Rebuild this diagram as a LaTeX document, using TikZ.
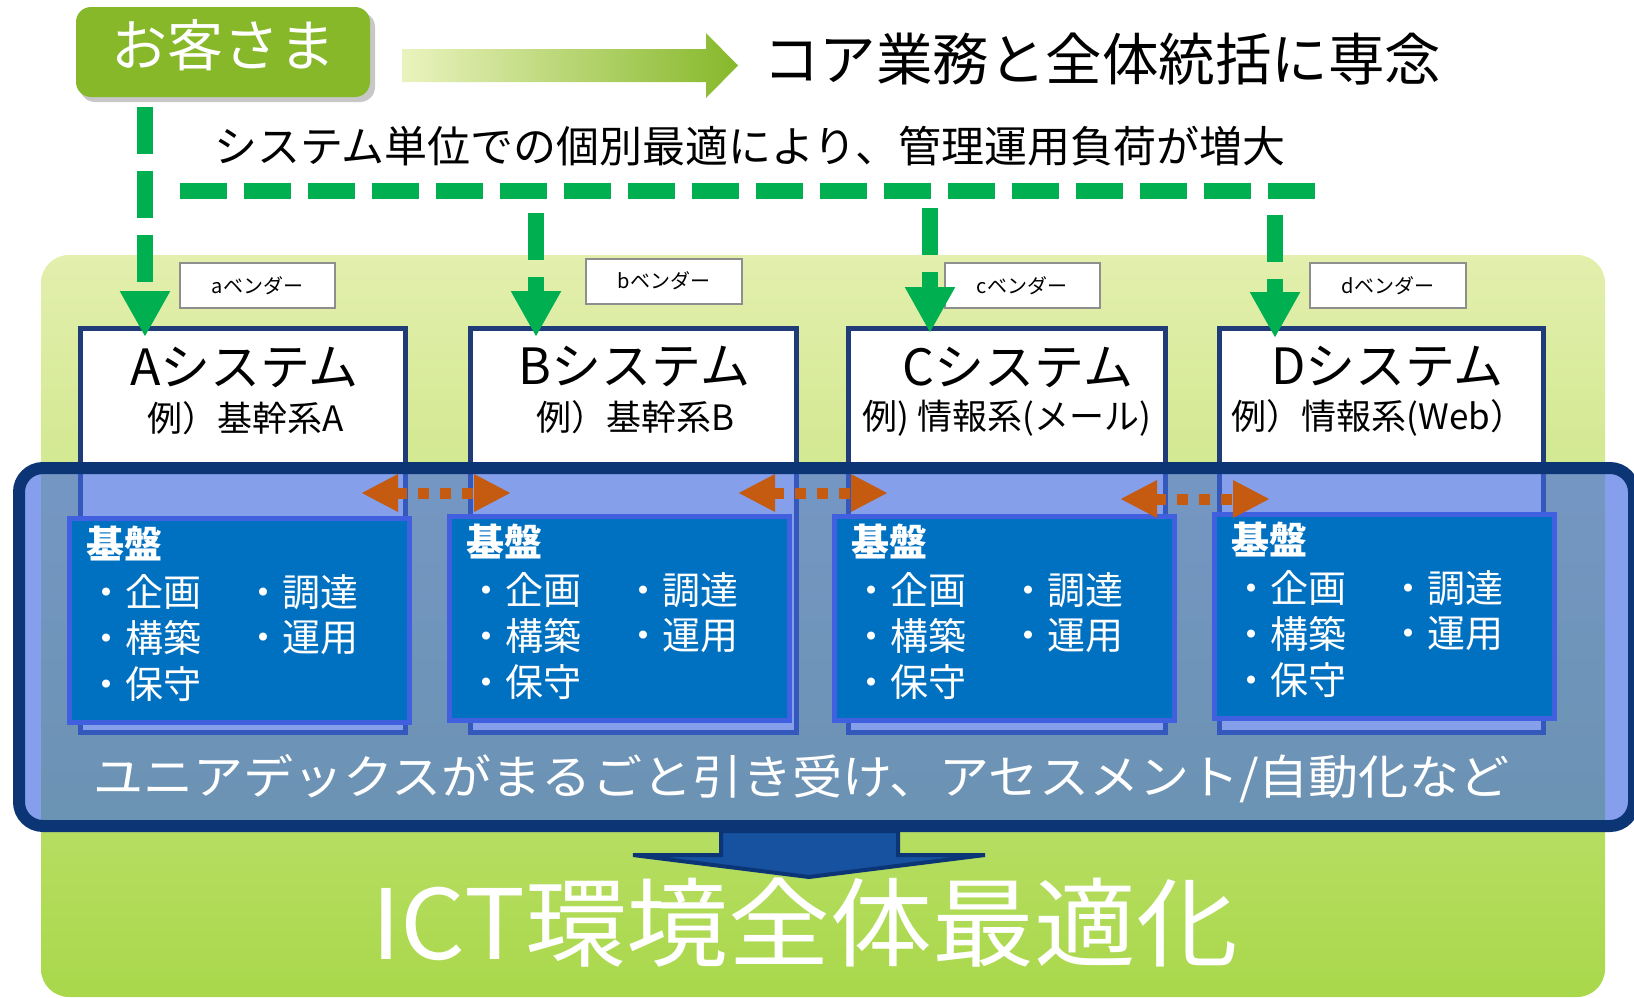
\documentclass[tikz,border=0pt]{standalone}
\usepackage{fontspec}
\setmainfont{Noto Sans CJK JP}
\usetikzlibrary{arrows.meta,calc}
\definecolor{okgreen}{HTML}{86B82A}
\definecolor{gradL}{HTML}{EAF3BE}
\definecolor{gline}{HTML}{00B050}
\definecolor{navy}{HTML}{1F3B78}
\definecolor{platborder}{HTML}{0B3574}
\definecolor{kibanfill}{HTML}{0070C0}
\definecolor{kibanline}{HTML}{4060E0}
\definecolor{orng}{HTML}{C55A11}
\definecolor{arrowblue}{HTML}{1652A0}
\definecolor{arrowdark}{HTML}{0C3575}
\definecolor{bgtop}{HTML}{E3EFAD}
\definecolor{bgbot}{HTML}{A9D84B}
\definecolor{overlay}{HTML}{4169E1}
\definecolor{vendline}{HTML}{8E8E8E}
\newcommand{\fs}[1]{\fontsize{#1}{#1}\selectfont}
\newcommand{\kibanblock}[3]{%
  \node[kibanbox] (#1) at (#2,#3) {};
  \node[kbtitle] (#1-h) at ($(#1.north west)+(19,28)$) {基盤};
  \node[kbtxt] (#1-a) at ($(#1.north west)+(20,76)$) {・企画};
  \node[kbtxt] (#1-b) at ($(#1.north west)+(20,122)$) {・構築};
  \node[kbtxt] (#1-c) at ($(#1.north west)+(20,168)$) {・保守};
  \node[kbtxt] (#1-d) at ($(#1.north west)+(177,76)$) {・調達};
  \node[kbtxt] (#1-e) at ($(#1.north west)+(177,122)$) {・運用};
}
\begin{document}
\begin{tikzpicture}[x=1pt,y=-1pt,
  txt/.style={inner sep=0pt,outer sep=0pt},
  sysbox/.style={draw=navy,line width=5pt,fill=white,minimum height=404pt,inner sep=0pt},
  systitle/.style={txt,font=\fs{50},text=black},
  syssub/.style={txt,font=\fs{35},text=black},
  vendbox/.style={draw=vendline,line width=2pt,fill=white,minimum width=155pt,minimum height=45pt,inner sep=0pt,font=\fs{20}},
  kibanbox/.style={draw=kibanline,fill=kibanfill,line width=5pt,minimum width=340pt,minimum height=204pt,inner sep=0pt},
  kbtitle/.style={txt,anchor=west,font=\bfseries\fs{38},text=white},
  kbtxt/.style={txt,anchor=west,font=\fs{38},text=white},
  garrow/.style={draw=gline,line width=16pt,dash pattern=on 47pt off 17pt,-{Triangle[length=46pt,width=47pt]}},
  gline/.style={draw=gline,line width=16pt,dash pattern=on 47pt off 17pt},
  orarrow/.style={draw=orng,line width=11pt,dash pattern=on 11pt off 11pt,{Triangle[length=37pt,width=35pt]}-{Triangle[length=37pt,width=35pt]}},
]
\useasboundingbox (0,0) rectangle (1634,997);

% light green background
\shade[top color=bgtop,bottom color=bgbot,rounded corners=28pt] (41,255) rectangle (1605,997);

% system boxes
\node[sysbox,minimum width=325pt] (Asys) at (242.5,530) {};
\node[sysbox,minimum width=326pt] (Bsys) at (633.5,530) {};
\node[sysbox,minimum width=317pt] (Csys) at (1007,530) {};
\node[sysbox,minimum width=324pt] (Dsys) at (1381.5,530) {};
\node[systitle] (At) at ($(Asys.north)+(2,42)$) {Aシステム};
\node[syssub]   (As) at ($(Asys.north)+(3,93)$) {例）基幹系A};
\node[systitle] (Bt) at ($(Bsys.north)+(1,41)$) {Bシステム};
\node[syssub]   (Bs) at ($(Bsys.north)+(2,92)$) {例）基幹系B};
\node[systitle] (Ct) at ($(Csys.north)+(11,42)$) {Cシステム};
\node[syssub]   (Cs) at ($(Csys.north)+(0,93)$) {例) 情報系(メール)};
\node[systitle] (Dt) at ($(Dsys.north)+(6,41)$) {Dシステム};
\node[syssub]   (Ds) at ($(Dsys.north)+(-3,92)$) {例）情報系(Web）};

% vendor labels
\node[vendbox] (va) at (257.5,285.5) {aベンダー};
\node[vendbox,minimum width=156pt] (vb) at (664,281) {bベンダー};
\node[vendbox] (vc) at (1022,285.5) {cベンダー};
\node[vendbox,minimum width=156pt] (vd) at (1388,285.5) {dベンダー};

% customer box
\fill[black,opacity=0.22,rounded corners=15pt] (80,12) rectangle (375,102);
\node[fill=okgreen,rounded corners=15pt,minimum width=294pt,minimum height=90pt,inner sep=0pt] (cust) at (223,52) {};
\node[txt,font=\fs{56},text=white] (custt) at (223,45) {お客さま};

% gradient block arrow
\shade[left color=gradL,right color=okgreen] (402,49) -- (706,49) -- (706,33) -- (738,65.5) -- (706,98) -- (706,82) -- (402,82) -- cycle;
\node[txt,anchor=west,font=\fs{56.5}] (core) at (763,59) {コア業務と全体統括に専念};
\node[txt,anchor=west,font=\fs{43}] (load) at (214,146) {システム単位での個別最適により、管理運用負荷が増大};

% green dashed arrows
\coordinate (sA) at (145,107);
\coordinate (tA) at (145,337);
\coordinate (sB) at (536,213);
\coordinate (tB) at (536,337);
\coordinate (sC) at (930,208);
\coordinate (tC) at (930,333);
\coordinate (sD) at (1275,215);
\coordinate (tD) at (1275,338);
\coordinate (hL) at (180,191);
\coordinate (hR) at (1316,191);
\draw[garrow] (sA) -- (tA);
\draw[gline] (hL) -- (hR);
\draw[garrow] (sB) -- (tB);
\draw[garrow] (sC) -- (tC);
\draw[garrow] (sD) -- (tD);

% platform overlay
\node[draw=platborder,line width=12pt,fill=overlay,fill opacity=0.64,rounded corners=24pt,minimum width=1615pt,minimum height=358pt,inner sep=0pt] (plat) at (826.5,647) {};

% kiban blocks
\kibanblock{KA}{239.5}{620.5}
\kibanblock{KB}{619.5}{618.5}
\kibanblock{KC}{1004.5}{618.5}
\kibanblock{KD}{1384.5}{616.5}

% orange double arrows
\coordinate (o1a) at (361,493);
\coordinate (o1b) at (511,493);
\coordinate (o2a) at (738,493);
\coordinate (o2b) at (888,493);
\coordinate (o3a) at (1120,499);
\coordinate (o3b) at (1270,499);
\draw[orarrow] (o1a) -- (o1b);
\draw[orarrow] (o2a) -- (o2b);
\draw[orarrow] (o3a) -- (o3b);

\node[txt,anchor=west,font=\fs{47},text=white] (unia) at (93,779) {\scalebox{1.065}[1]{ユニアデックスがまるごと引き受け、アセスメント/自動化など}};

% big blue arrow
\draw[fill=arrowblue,draw=arrowdark,line width=4pt,line join=miter] (721,831) -- (898,831) -- (898,855) -- (985,855) -- (809,877) -- (633,855) -- (721,855) -- cycle;

% ICT text
\node[txt,font=\fs{97},text=white] (ict) at (804.5,923) {\scalebox{1.05}[1]{ICT環境全体最適化}};
\end{tikzpicture}
\end{document}
